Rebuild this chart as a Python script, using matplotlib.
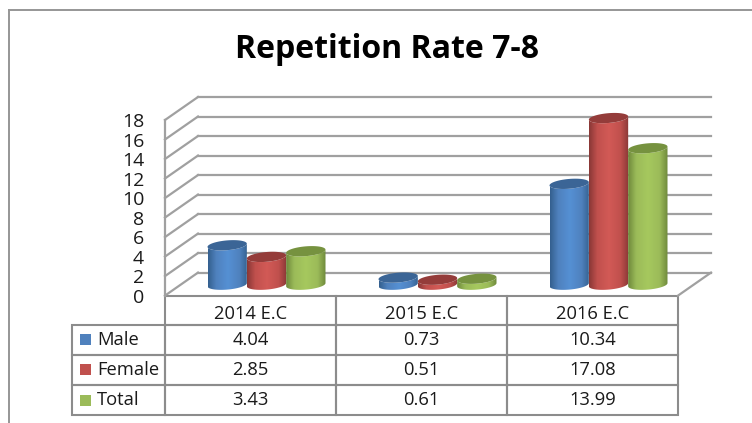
import numpy as np
import matplotlib
matplotlib.use("Agg")
import matplotlib.pyplot as plt
from matplotlib.colors import LinearSegmentedColormap
from matplotlib.path import Path
from matplotlib.patches import PathPatch, Rectangle
from matplotlib.transforms import Affine2D

categories = ["2014 E.C", "2015 E.C", "2016 E.C"]
series_names = ["Male", "Female", "Total"]
male = [4.04, 0.73, 10.34]
female = [2.85, 0.51, 17.08]
total = [3.43, 0.61, 13.99]
value_labels = [["4.04", "0.73", "10.34"], ["2.85", "0.51", "17.08"], ["3.43", "0.61", "13.99"]]
yticks = [0, 2, 4, 6, 8, 10, 12, 14, 16, 18]

W, H = 752, 423
LEFT, RIGHT, BOTTOM, TOP = 165, 678, 295.6, 120
DX, DY = 33, 23
GRID = "#a0a0a0"
TEXT = "#1a1a1a"
key_colors = ["#4f81bd", "#c0504d", "#9bbb59"]
edge_colors = ["#34608f", "#8a3836", "#6f8a3c"]
cap_colors = ["#3b6596", "#943c3a", "#76923f"]
light_colors = ["#5590d4", "#d25a56", "#a6c85e"]

plt.rcParams["font.family"] = ["Open Sans", "DejaVu Sans"]
fig = plt.figure(figsize=(W / 100, H / 100), dpi=100)
ax = fig.add_axes([LEFT / W, 1 - BOTTOM / H, (RIGHT - LEFT) / W, (BOTTOM - TOP) / H])
ax.set_xlim(0, 3)
ax.set_ylim(0, 18)
ax.patch.set_visible(False)
for s in ax.spines.values():
    s.set_visible(False)
ax.set_xticks([])
ax.set_yticks(yticks)
ax.tick_params(axis="y", length=0, labelsize=14, labelcolor=TEXT, pad=15)

# pixel offsets from the front plane: back wall and middle of the floor
back = ax.transData + Affine2D().translate(DX, DY)
mid = ax.transData + Affine2D().translate(16, 10.9)

# walls and gridlines
for v in yticks:
    ax.plot([0, 3], [v, v], color=GRID, lw=1.6, transform=back, clip_on=False)
    p0 = ax.transData.transform((0, v))
    ax.add_line(plt.Line2D([p0[0], p0[0] + DX], [p0[1], p0[1] + DY], color=GRID, lw=1.6,
                           transform=None, clip_on=False))
ax.plot([0, 0], [0, 18], color=GRID, lw=1.6, clip_on=False)
p1 = ax.transData.transform((3, 0))
ax.add_line(plt.Line2D([p1[0], p1[0] + DX], [p1[1], p1[1] + DY], color=GRID, lw=1.6,
                       transform=None, clip_on=False))

# cylinders
bar_w = 0.23
px_per_unit = (BOTTOM - TOP) / 18
semi_h = 4.9 / px_per_unit
tilt = 1.6 / px_per_unit


def cylinder(xc, v, i):
    t = np.linspace(np.pi, 2 * np.pi, 40)
    xs = xc + bar_w / 2 * np.cos(t)
    ys = semi_h * np.sin(t) + tilt * np.cos(t)
    verts = np.column_stack([np.r_[xs, xs[::-1]], np.r_[ys, v + ys[::-1]]])
    clip = PathPatch(Path(np.vstack([verts, verts[0]])), transform=mid, fc="none", ec="none", clip_on=False)
    ax.add_patch(clip)
    cmap = LinearSegmentedColormap.from_list(
        "cyl", [(0, edge_colors[i]), (0.2, key_colors[i]), (0.5, light_colors[i]),
                (0.8, key_colors[i]), (1, edge_colors[i])])
    im = ax.imshow(np.linspace(0, 1, 64)[None, :], cmap=cmap, aspect="auto",
                   extent=(xc - bar_w / 2, xc + bar_w / 2, -1, v + 1),
                   transform=mid, zorder=3 + i / 10)
    im.set_clip_box(fig.bbox)
    im.set_clip_path(clip)
    t2 = np.linspace(0, 2 * np.pi, 60)
    cap = np.column_stack([xc + bar_w / 2 * np.cos(t2), v + semi_h * np.sin(t2) + tilt * np.cos(t2)])
    ax.add_patch(PathPatch(Path(cap), transform=mid, fc=cap_colors[i], ec="none",
                           zorder=3.05 + i / 10, clip_on=False))


for i, vals in enumerate([male, female, total]):
    for j, v in enumerate(vals):
        cylinder(j + 0.5 + (i - 1) * bar_w, v, i)
ax.set_xlim(0, 3)
ax.set_ylim(0, 18)

# data table below the plot
col_w = (RIGHT - LEFT) / 3
label_w = LEFT - 72
cell_text = [[""] + categories] + [[n] + row for n, row in zip(series_names, value_labels)]
tbl_left = (72 - LEFT) / (RIGHT - LEFT)
tbl_h = (415 - BOTTOM) / (BOTTOM - TOP)
tbl = ax.table(cellText=cell_text, cellLoc="center",
               colWidths=[label_w / (RIGHT - LEFT)] + [col_w / (RIGHT - LEFT)] * 3,
               bbox=[tbl_left, -tbl_h, 1 - tbl_left, tbl_h])
tbl.auto_set_font_size(False)
tbl.set_fontsize(13.2)
for (r, c), cell in tbl.get_celld().items():
    cell.set_edgecolor("#8c8c8c")
    cell.set_linewidth(1.5)
    cell.set_facecolor("none")
    cell.get_text().set_color(TEXT)
    if c == 0:
        cell.PAD = 0.27
        cell.get_text().set_ha("left")
        cell._loc = "left"
    if r == 0:
        # header labels sit a little low in their row
        cell.get_text().set_transform(Affine2D().translate(0, -3))
tbl[(0, 0)].visible_edges = ""

# legend keys inside the table
for col, yc in zip(key_colors, [339, 369.5, 400]):
    fig.add_artist(Rectangle((80 / W, 1 - (yc + 5.5) / H), 11 / W, 11 / H, fc=col, ec="none",
                             transform=fig.transFigure))

# chart frame
fig.add_artist(plt.Line2D([8.6 / W, 8.6 / W], [0, 1 - 10 / H], color="#969696", lw=1.4))
fig.add_artist(plt.Line2D([8.6 / W, 1], [1 - 10 / H, 1 - 10 / H], color="#969696", lw=1.4))

fig.text(387 / W, 1 - 49 / H, "Repetition Rate 7-8", fontsize=23, fontweight="bold",
         color="black", ha="center", va="center")

fig.savefig("out.png", dpi=100)
